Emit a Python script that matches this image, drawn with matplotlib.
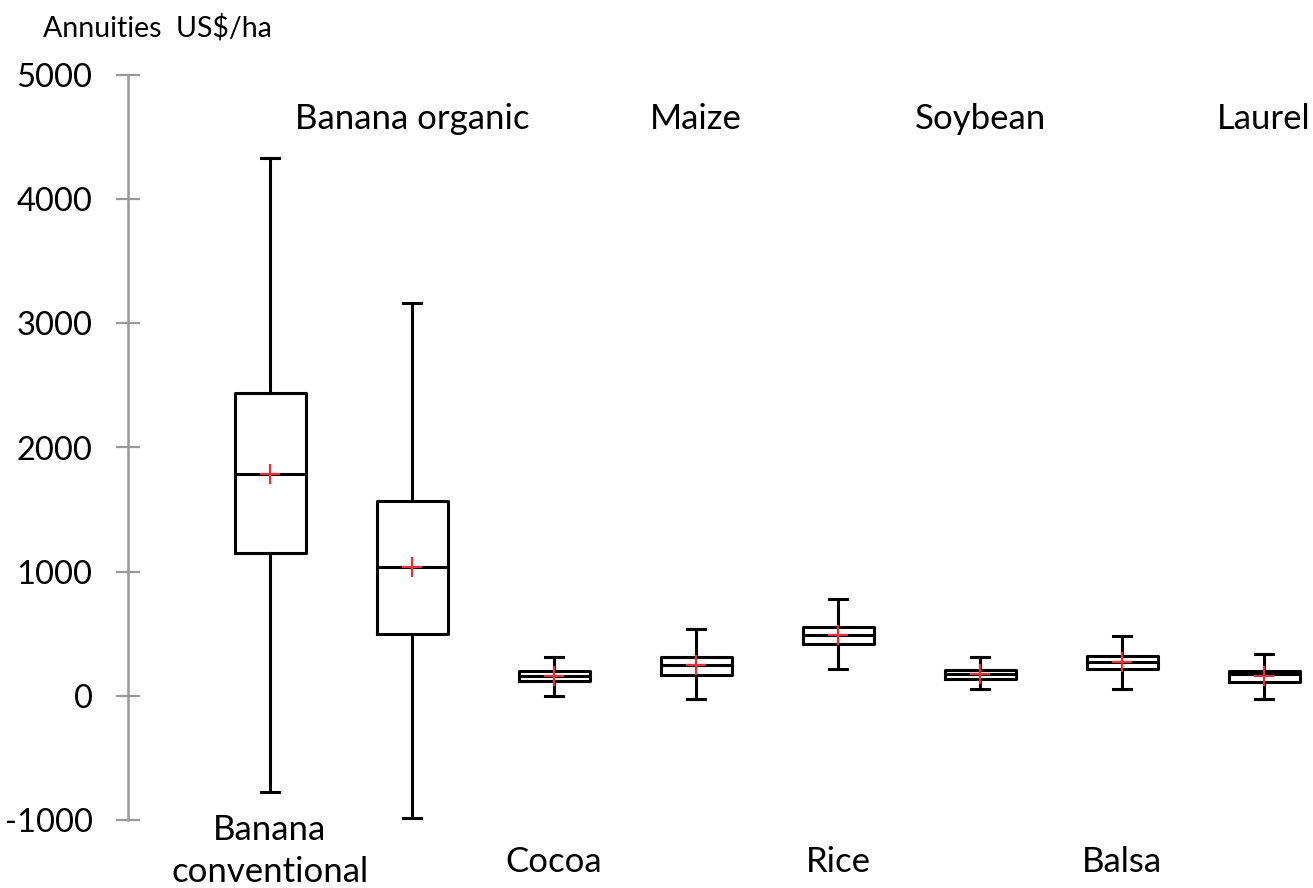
import matplotlib
matplotlib.use("Agg")
import matplotlib.pyplot as plt
import matplotlib.transforms as mtransforms

plt.rcParams["font.family"] = ["Lato", "DejaVu Sans"]

# values (US$/ha)
crops = ["Banana\nconventional", "Banana organic", "Cocoa", "Maize",
         "Rice", "Soybean", "Balsa", "Laurel"]
whis_lo = [-778, -982, 0, -24, 215, 54, 54, -24]
q1 = [1151, 500, 121, 169, 416, 139, 215, 110]
median = [1787, 1039, 161, 250, 486, 175, 274, 175]
q3 = [2440, 1570, 196, 316, 553, 209, 322, 204]
whis_hi = [4329, 3167, 316, 539, 778, 309, 478, 338]
mean = [1790, 1040, 161, 250, 486, 175, 274, 160]
yticks = [-1000, 0, 1000, 2000, 3000, 4000, 5000]

stats = []
for i, name in enumerate(crops):
    stats.append(dict(label=name, whislo=whis_lo[i], q1=q1[i], med=median[i],
                      q3=q3[i], whishi=whis_hi[i], mean=mean[i], fliers=[]))

fig = plt.figure(figsize=(13.13, 8.88), dpi=100)
ax = fig.add_axes([128 / 1313, 1 - 820 / 888, 8.3 * 142 / 1313, 745 / 888])

lw = 2.2
positions = list(range(1, len(crops) + 1))
ax.bxp(stats, positions=positions, widths=0.5, capwidths=0.12, showmeans=True,
       boxprops=dict(color="black", linewidth=lw),
       medianprops=dict(color="black", linewidth=lw),
       whiskerprops=dict(color="black", linewidth=lw),
       capprops=dict(color="black", linewidth=lw),
       meanprops=dict(marker="+", markeredgecolor="#e8303a", markersize=14,
                      markeredgewidth=1.6))

ax.set_xlim(0, 8.3)
ax.set_ylim(-1000, 5000)
ax.set_yticks(yticks)
ax.set_yticklabels([str(t) for t in yticks])
ax.set_xticks([])

for side in ["top", "right", "bottom"]:
    ax.spines[side].set_visible(False)
ax.spines["left"].set_color("#999999")
ax.spines["left"].set_linewidth(1.8)
ax.tick_params(axis="y", direction="inout", length=17, width=1.6,
               color="#999999", labelsize=23.5, pad=17)

# category names alternate between top and bottom
trans = mtransforms.blended_transform_factory(ax.transData, fig.transFigure)
for i, name in enumerate(crops):
    x = positions[i]
    if i % 2 == 1:
        ax.text(x, 1 - 119 / 888, name, transform=trans, ha="center",
                va="center", fontsize=25, clip_on=False)
    elif "\n" in name:
        ax.text(x, 1 - 851 / 888, name, transform=trans, ha="center",
                va="center", fontsize=25, linespacing=1.35, clip_on=False)
    else:
        ax.text(x, 1 - 862 / 888, name, transform=trans, ha="center",
                va="center", fontsize=25, clip_on=False)

fig.text(157 / 1313, 1 - 28 / 888, "Annuities  US$/ha", ha="center",
         va="center", fontsize=20.5)

fig.savefig("out.png", dpi=100)
